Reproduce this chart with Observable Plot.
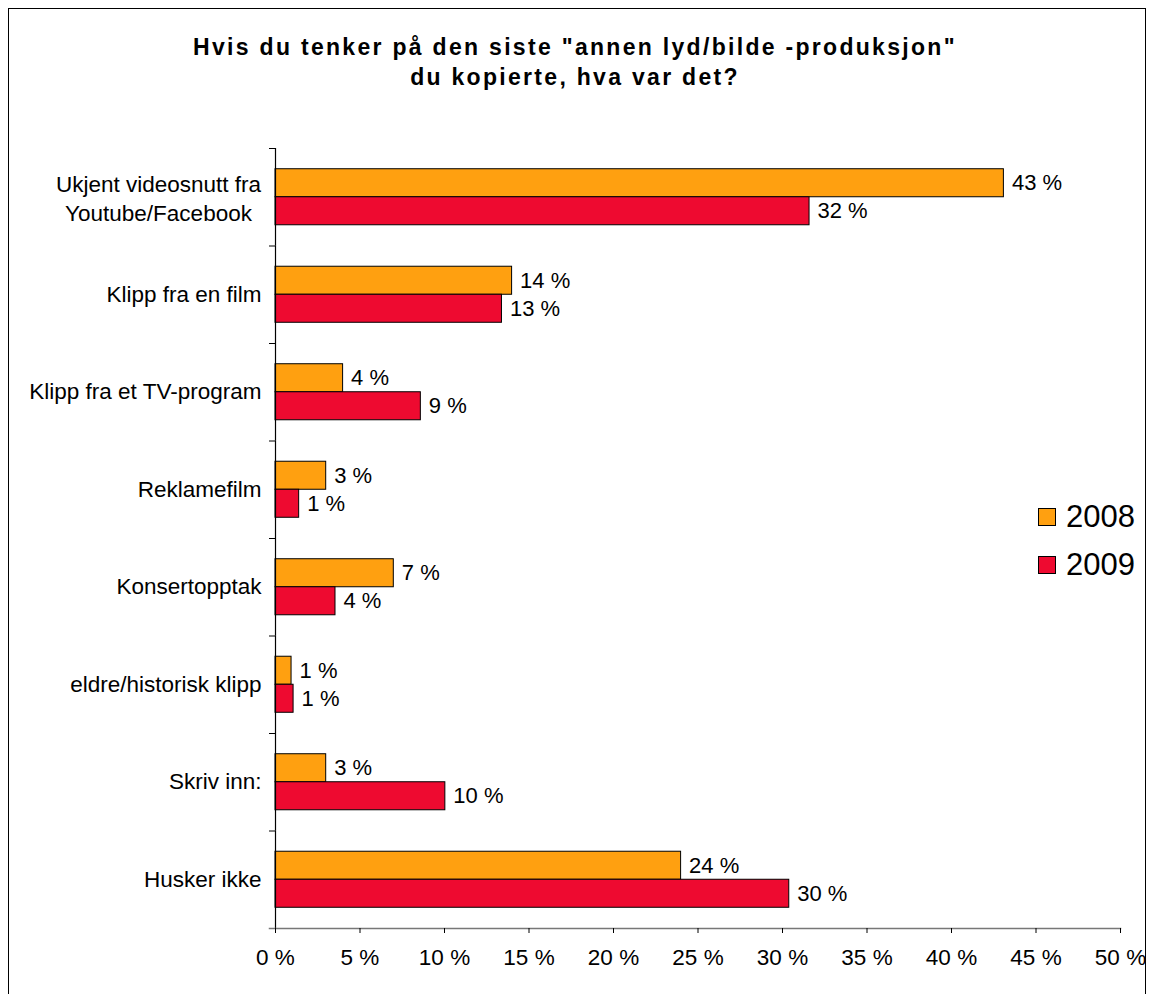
<!DOCTYPE html>
<html>
<head>
<meta charset="utf-8">
<script src="https://cdn.jsdelivr.net/npm/d3@7"></script>
<script src="https://cdn.jsdelivr.net/npm/@observablehq/plot@0.6"></script>
<style>
  html, body { margin: 0; padding: 0; background: #fff; }
  #wrap { position: relative; width: 1150px; height: 994px; overflow: hidden; background: #fff;
          font-family: "Liberation Sans", Arial, sans-serif; }
  #border { position: absolute; left: 8px; top: 8px; width: 1138px; height: 1000px; border: 1.5px solid #000; box-sizing: border-box; }
  #title { position: absolute; left: 0; top: 32px; width: 1150px; text-align: center; font-weight: bold;
           font-size: 23px; letter-spacing: 2.3px; line-height: 30px; color: #000; }
  #chart { position: absolute; left: 0; top: 0; }
  .leg { position: absolute; left: 1038px; font-size: 31px; line-height: 34px; color: #000; }
  .leg span.sw { position: absolute; left: 0; top: 8px; width: 18px; height: 18px; border: 1px solid #000; box-sizing: border-box; }
  .leg span.tx { position: absolute; left: 28px; top: 0; }
</style>
</head>
<body>
<div id="wrap">
  <div id="chart"></div>
  <div id="border"></div>
  <div id="title">Hvis du tenker på den siste "annen lyd/bilde -produksjon"<br>du kopierte, hva var det?</div>
  <div id="legend"></div>
</div>
<script>
const categories = [
  "Ukjent videosnutt fra\nYoutube/Facebook",
  "Klipp fra en film",
  "Klipp fra et TV-program",
  "Reklamefilm",
  "Konsertopptak",
  "eldre/historisk klipp",
  "Skriv inn:",
  "Husker ikke"
];
const years = ["2008", "2009"];
const values2008 = [43.1, 14.0, 4.0, 3.0, 7.0, 0.95, 3.0, 24.0];
const values2009 = [31.6, 13.4, 8.6, 1.4, 3.55, 1.07, 10.05, 30.4];
const xTicks = [0, 5, 10, 15, 20, 25, 30, 35, 40, 45, 50];
const colors = ["#FFA010", "#EE0A30"];

const data = [];
categories.forEach((c, i) => {
  data.push({category: c, year: years[0], value: values2008[i]});
  data.push({category: c, year: years[1], value: values2009[i]});
});
const multiLine = categories.filter(c => c.includes("\n"));

const W = 1150, H = 994, mL = 275, mR = 30, mT = 148, mB = 66;

const chart = Plot.plot({
  width: W,
  height: H,
  marginLeft: mL,
  marginRight: mR,
  marginTop: mT,
  marginBottom: mB,
  style: {fontFamily: "'Liberation Sans', Arial, sans-serif", fontSize: "22px", color: "#000", background: "transparent"},
  x: {domain: [0, 50], axis: null},
  y: {domain: years, paddingInner: 0, paddingOuter: 0.74, round: false, axis: null},
  fy: {domain: categories, padding: 0, round: false, axis: null},
  color: {domain: years, range: colors},
  marks: [
    Plot.barX(data, {x: "value", y: "year", fy: "category", fill: "year", stroke: "#000", strokeWidth: 1}),
    Plot.text(data, {x: "value", y: "year", fy: "category", text: d => Math.round(d.value) + " %",
      textAnchor: "start", dx: 8, fontSize: 22, fill: "#000"}),
    Plot.ruleX([0], {stroke: "#000", strokeWidth: 1.2}),
    Plot.frame({anchor: "top", insetLeft: -6, insetRight: W - mL - mR, stroke: "#000"}),
    Plot.frame({anchor: "bottom", facetAnchor: "bottom", insetLeft: -6, stroke: "#777", strokeWidth: 1.5}),
    Plot.axisFy({anchor: "left", tickSize: 0, tickPadding: 14, label: null, fontSize: 22.5,
      tickFormat: d => d.includes("\n") ? "" : d}),
    Plot.text(multiLine, {fy: d => d, text: d => d, frameAnchor: "left", textAnchor: "middle",
      dx: -117, fontSize: 22.5, lineHeight: 1.3, fill: "#000"}),
    Plot.axisX({ticks: xTicks, tickSize: 5, tickPadding: 16, tickFormat: d => d + " %", label: null, fontSize: 22.5, stroke: "#000"})
  ]
});
document.getElementById("chart").appendChild(chart);

const legend = document.getElementById("legend");
years.forEach((y, i) => {
  const el = document.createElement("div");
  el.className = "leg";
  el.style.top = (500 + i * 48) + "px";
  el.innerHTML = `<span class="sw" style="background:${colors[i]}"></span><span class="tx">${y}</span>`;
  legend.appendChild(el);
});
</script>
</body>
</html>
